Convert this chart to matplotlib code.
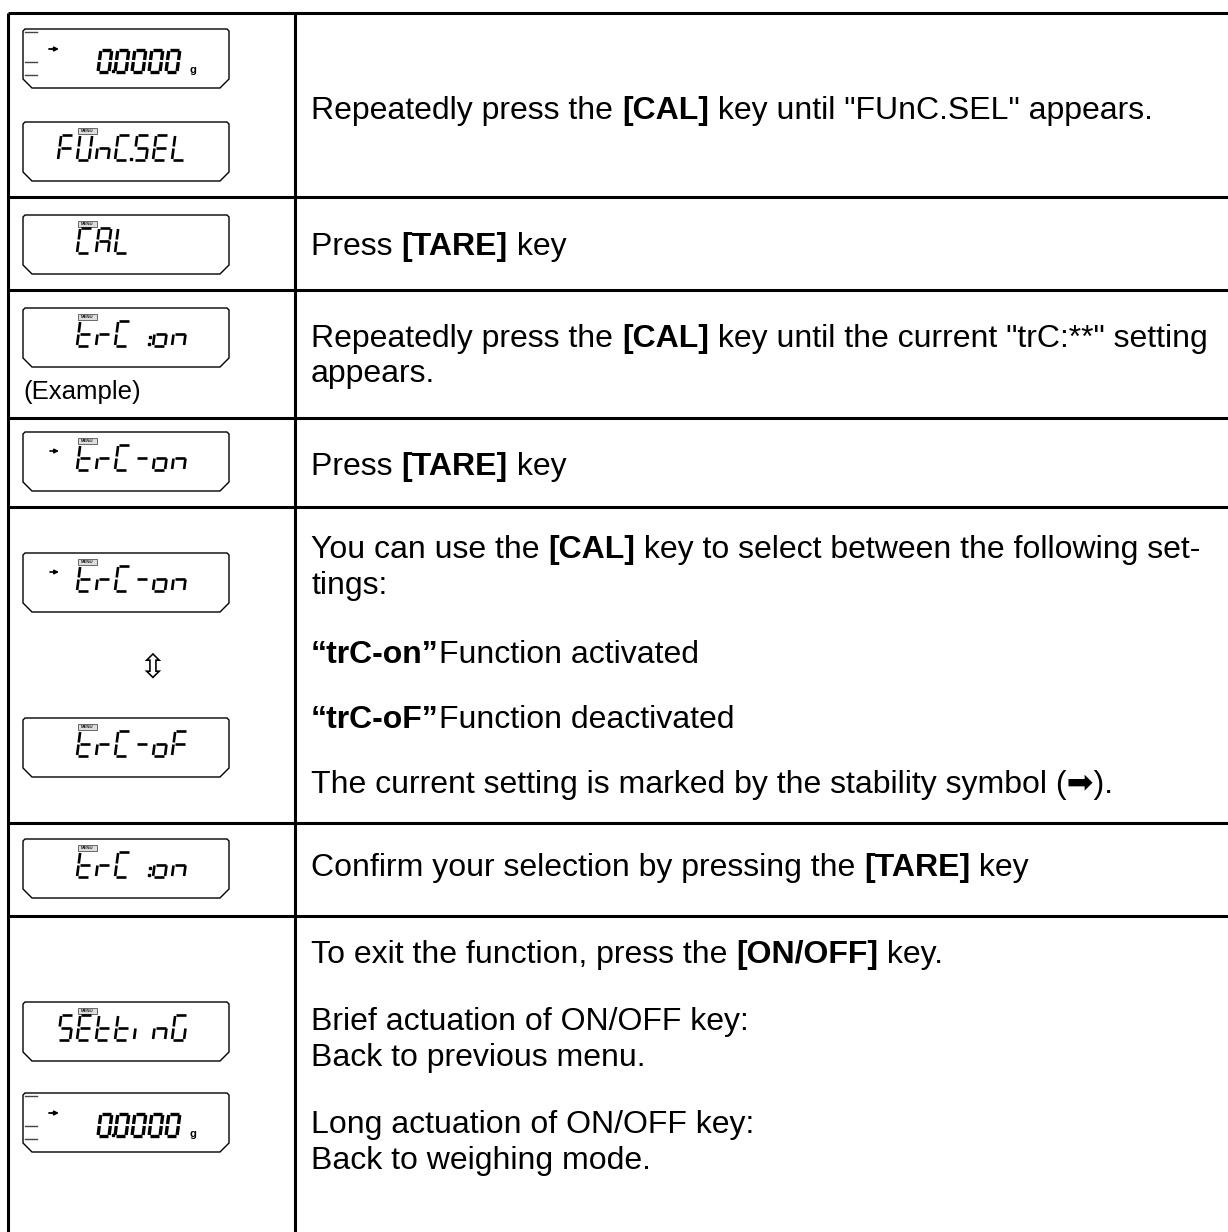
import matplotlib
matplotlib.use("Agg")
import matplotlib.pyplot as plt
from matplotlib.patches import Polygon, Rectangle

W, H = 1228, 1232
FAMILY = ["Liberation Sans", "DejaVu Sans"]
FS = 23

# table rules (pixels from the top)
row_lines = [13, 197, 290, 418, 507, 823, 916]
col_lines = [8, 295]

# LCD displays shown in the left column: text and top edge of the display box
lcd_texts = ["0.0000", "FUnC.SEL", "CAL", "trC :on", "trC-on",
             "trC-on", "trC-oF", "trC :on", "SEttinG", "0.0000"]
lcd_tops = [29, 122, 215, 308, 432, 553, 718, 839, 1002, 1093]
lcd_stable = [True, False, False, False, True, True, False, False, False, True]

# instruction lines of the right column: baseline and (text, bold) runs
text_baselines = [119, 255, 347, 382, 475, 558, 594, 663, 728, 793,
                  876, 963, 1030, 1066, 1133, 1169]
text_runs = [
    [("Repeatedly press the ", 0), ("[CAL]", 1), (' key until "FUnC.SEL" appears.', 0)],
    [("Press ", 0), ("[TARE]", 1), (" key", 0)],
    [("Repeatedly press the ", 0), ("[CAL]", 1), (' key until the current "trC:**" setting', 0)],
    [("appears.", 0)],
    [("Press ", 0), ("[TARE]", 1), (" key", 0)],
    [("You can use the ", 0), ("[CAL]", 1), (" key to select between the following set-", 0)],
    [("tings:", 0)],
    [("\u201ctrC-on\u201d", 1), ("Function activated", 0)],
    [("\u201ctrC-oF\u201d", 1), ("Function deactivated", 0)],
    [("The current setting is marked by the stability symbol (\u27a1).", 0)],
    [("Confirm your selection by pressing the ", 0), ("[TARE]", 1), (" key", 0)],
    [("To exit the function, press the ", 0), ("[ON/OFF]", 1), (" key.", 0)],
    [("Brief actuation of ON/OFF key:", 0)],
    [("Back to previous menu.", 0)],
    [("Long actuation of ON/OFF key:", 0)],
    [("Back to weighing mode.", 0)],
]
example_label = "(Example)"

SEGS = {"0": "abcdef", "A": "abcefg", "C": "adef", "E": "adefg", "F": "aefg",
        "G": "acdef", "L": "def", "S": "acdfg", "U": "bcdef", "n": "ceg",
        "o": "cdeg", "r": "eg", "t": "defg", "i": "e", "-": "g"}

fig = plt.figure(figsize=(W / 100, H / 100), dpi=100)
ax = fig.add_axes([0, 0, 1, 1])
ax.set_xlim(0, W)
ax.set_ylim(H, 0)
ax.axis("off")
renderer = fig.canvas.get_renderer()


def text_width(s, bold, size=FS):
    wt = "bold" if bold else "normal"
    a = ax.text(0, 0, "|" + s + "|", fontsize=size, fontweight=wt, family=FAMILY)
    b = ax.text(0, 0, "||", fontsize=size, fontweight=wt, family=FAMILY)
    w = a.get_window_extent(renderer).width - b.get_window_extent(renderer).width
    a.remove()
    b.remove()
    return w


def draw_runs(x, y, runs):
    for s, bold in runs:
        ax.text(x, y, s, fontsize=FS, fontweight="bold" if bold else "normal",
                family=FAMILY, va="baseline", ha="left")
        x += text_width(s, bold)


def seg_lines(x0, ybot, ch, w, h, lw, shear=0.13, gap=1.0):
    pts = {
        "a": [(gap, h), (w - gap, h)],
        "b": [(w, h - gap), (w, h / 2 + gap)],
        "c": [(w, h / 2 - gap), (w, gap)],
        "d": [(gap, 0), (w - gap, 0)],
        "e": [(0, gap), (0, h / 2 - gap)],
        "f": [(0, h / 2 + gap), (0, h - gap)],
        "g": [(gap, h / 2), (w - gap, h / 2)],
    }
    for s in SEGS[ch]:
        (u1, v1), (u2, v2) = pts[s]
        ax.plot([x0 + u1 + shear * v1, x0 + u2 + shear * v2],
                [ybot - v1, ybot - v2], color="black", lw=lw,
                solid_capstyle="butt")


def lcd_string(s, x, ybot, pitch, w, h, lw):
    for ch in s:
        if ch == ".":
            ax.plot(x - pitch + w + 3.5, ybot - 1, "s", color="black", ms=2.0)
        elif ch == ":":
            ax.plot([x - 4, x - 2.8], [ybot - 2, ybot - 9], "s", color="black", ms=1.6)
        elif ch == " ":
            x += pitch
        else:
            seg_lines(x, ybot, ch, w, h, lw)
            x += pitch


def lcd_box(top, txt, stable):
    x0, x1, bh, c = 23, 229, 59, 9
    bot = top + bh
    ax.add_patch(Polygon([(x0, top + 2), (x0 + 2, top), (x1 - 2, top), (x1, top + 2),
                          (x1, bot - c), (x1 - c, bot), (x0 + c, bot), (x0, bot - c)],
                         closed=True, fill=False, ec="black", lw=1.0))
    if txt == "0.0000":
        for dy in (3, 33, 46):
            ax.plot([x0 + 2, x0 + 14], [top + dy, top + dy], color="#444444", lw=1.0)
        ax.annotate("", xy=(59, top + 20), xytext=(49, top + 20),
                    arrowprops=dict(arrowstyle="-|>", color="black", lw=1.3,
                                    mutation_scale=6, shrinkA=0, shrinkB=0))
        lcd_string(txt, 98, top + 43, 17, 11, 22, 2.4)
        ax.text(190, top + 44, "g", fontsize=8, fontweight="bold",
                family=FAMILY, va="baseline")
        return
    ax.add_patch(Rectangle((78, top + 6), 19, 5.5, fill=True, fc="#dddddd",
                           ec="#333333", lw=0.5))
    ax.text(87.5, top + 8.9, "MENU", fontsize=3.2, fontweight="bold",
            ha="center", va="center", family=FAMILY, color="#222222")
    if stable:
        ax.annotate("", xy=(59, top + 19), xytext=(50, top + 19),
                    arrowprops=dict(arrowstyle="-|>", color="black", lw=1.2,
                                    mutation_scale=6, shrinkA=0, shrinkB=0))
        start = 77
    else:
        start = 58 if txt[0] in "FS" else 77
    lcd_string(txt, start, top + 38, 19, 12, 25, 1.9)


# table grid
for y in row_lines:
    ax.plot([col_lines[0], W], [y, y], color="black", lw=2.2, solid_capstyle="butt")
for x in col_lines:
    ax.plot([x, x], [row_lines[0], H], color="black", lw=2.2, solid_capstyle="butt")

for txt, top, st in zip(lcd_texts, lcd_tops, lcd_stable):
    lcd_box(top, txt, st)

ax.text(152, 668, "\u21f3", fontsize=24, ha="center", va="center", family="DejaVu Sans")
ax.text(23, 399, example_label, fontsize=18.5, family=FAMILY, va="baseline")

for yb, runs in zip(text_baselines, text_runs):
    draw_runs(311, yb, runs)

fig.savefig("out.png", dpi=100)
